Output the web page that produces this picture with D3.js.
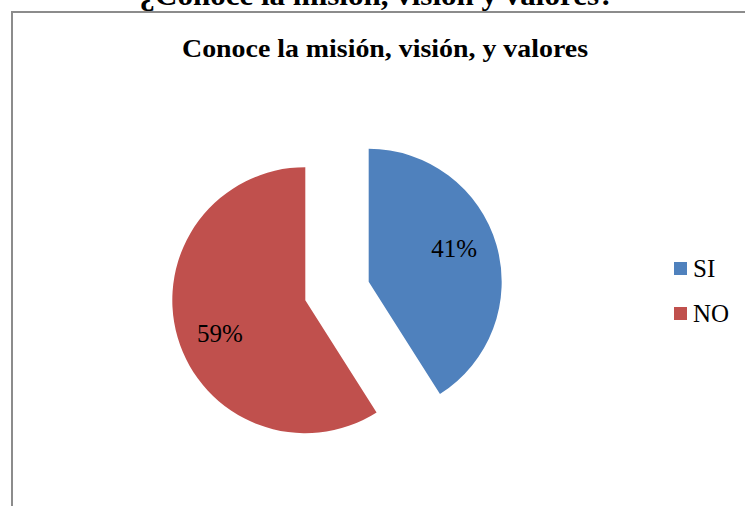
<!DOCTYPE html>
<html>
<head>
<meta charset="utf-8">
<script src="https://cdn.jsdelivr.net/npm/d3@7"></script>
<style>
  body { margin: 0; background: #fff; }
  text { font-family: "Liberation Serif", "Times New Roman", serif; }
</style>
</head>
<body>
<div id="chart"></div>
<script>
const categories = ['SI', 'NO'];
const values = [41, 59];
const colors = ['#4f81bd', '#c0504d'];
const pageTitle = '¿Conoce la misión, visión y valores?';
const chartTitle = 'Conoce la misión, visión, y valores';

const width = 745, height = 506;
const svg = d3.select('#chart')
  .append('svg')
  .attr('width', width)
  .attr('height', height);

// frame of the chart area
svg.append('rect')
  .attr('x', 12).attr('y', 12)
  .attr('width', width + 20).attr('height', height + 20)
  .attr('fill', 'none')
  .attr('stroke', '#8c8c8c')
  .attr('stroke-width', 2);

// title of the page, clipped at the top
svg.append('text')
  .attr('x', 377).attr('y', 5)
  .attr('text-anchor', 'middle')
  .attr('font-weight', 'bold')
  .attr('font-size', 30)
  .attr('textLength', 475)
  .attr('lengthAdjust', 'spacingAndGlyphs')
  .text(pageTitle);

svg.append('text')
  .attr('x', 385).attr('y', 57)
  .attr('text-anchor', 'middle')
  .attr('font-weight', 'bold')
  .attr('font-size', 26)
  .attr('textLength', 406)
  .attr('lengthAdjust', 'spacingAndGlyphs')
  .text(chartTitle);

//pie
const r = 133;
const explode = 33;
const cx = 337, cy = 291;
const labelR = r * 0.69;
const labelShift = -0.09;
const data = categories.map((c, i) => ({cat: c, value: values[i], color: colors[i]}));
const pie = d3.pie().value(d => d.value).sort(null);
const arc = d3.arc().innerRadius(0).outerRadius(r);

const g = svg.append('g').attr('transform', `translate(${cx}, ${cy})`);
const slices = g.selectAll('g.slice')
  .data(pie(data))
  .join('g')
  .attr('class', 'slice')
  .attr('transform', d => {
    const a = (d.startAngle + d.endAngle) / 2;
    return `translate(${Math.sin(a) * explode}, ${-Math.cos(a) * explode})`;
  });
slices.append('path')
  .attr('d', arc)
  .attr('fill', d => d.data.color);
slices.append('text')
  .attr('transform', d => {
    const a = (d.startAngle + d.endAngle) / 2 + labelShift;
    return `translate(${Math.sin(a) * labelR}, ${-Math.cos(a) * labelR})`;
  })
  .attr('text-anchor', 'middle')
  .attr('dy', '0.35em')
  .attr('font-size', 25)
  .text(d => d.data.value + '%');

//legend
const ly = d3.scalePoint().domain(categories).range([268.5, 313.5]);
const legend = svg.append('g')
  .selectAll('g')
  .data(data)
  .join('g')
  .attr('transform', d => `translate(674, ${ly(d.cat)})`);
legend.append('rect')
  .attr('x', 0).attr('y', -6.5)
  .attr('width', 13).attr('height', 13)
  .attr('fill', d => d.color);
legend.append('text')
  .attr('x', 19).attr('y', 8.5)
  .attr('font-size', 25)
  .text(d => d.cat);
</script>
</body>
</html>
